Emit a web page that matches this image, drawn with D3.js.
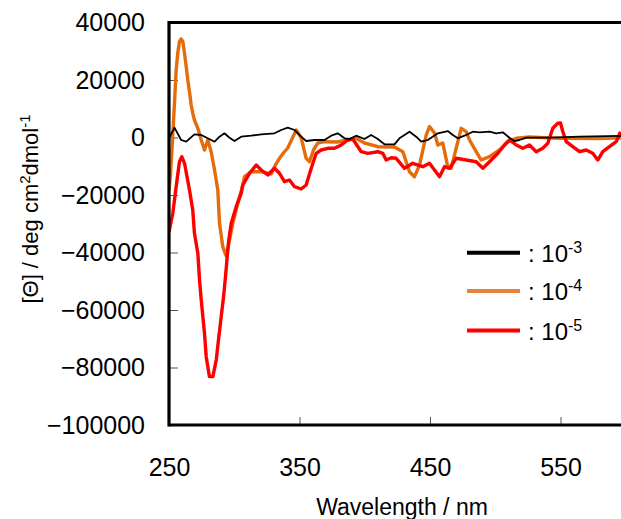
<!DOCTYPE html>
<html>
<head>
<meta charset="utf-8">
<script src="https://cdn.jsdelivr.net/npm/d3@7"></script>
<style>
  html, body { margin: 0; padding: 0; background: #fff; }
  svg { display: block; }
  text { font-family: "Liberation Sans", Arial, sans-serif; fill: #000; }
</style>
</head>
<body>
<svg id="chart" width="621" height="519"></svg>
<script>
// CD spectra: wavelength (nm) vs molar ellipticity, three concentrations
const xTicks = [250, 350, 450, 550];
const yTicks = [40000, 20000, 0, -20000, -40000, -60000, -80000, -100000];

const seriesNames = ["10-3", "10-4", "10-5"];
const seriesColors = ["#000000", "#E46C0A", "#FF0000"];
const legendColors = ["#000000", "#E5843F", "#FF0000"];
const seriesWidths = [1.8, 3.4, 3.4];

// 10^-3
const wl1 = [250, 254.2, 259.3, 263.2, 269.5, 274.7, 279.7, 284.9, 288.7, 292.5, 296.4, 300.2, 305.3, 313.0, 320.7, 330.8, 336.0, 341.0, 346.2, 351.3, 355.1, 361.5, 369.2, 374.3, 379.3, 384.5, 388.3, 393.4, 399.8, 404.9, 410.0, 415.1, 422.8, 426.6, 434.3, 439.4, 443.3, 448.3, 456.0, 463.6, 467.5, 471.3, 476.4, 482.8, 487.9, 495.6, 500.7, 505.8, 510.9, 514.8, 518.6, 523.7, 541.6, 564.6, 600];
const cd1 = [-280, 3410, -870, -1460, 1110, 870, -280, -1460, 280, 1460, -70, -1220, 280, 630, 1110, 1460, 2610, 3410, 2610, 280, -1220, -870, -870, 630, 1460, -280, -520, 630, -520, 870, -520, -2370, -2370, -280, 2020, 280, -1460, -870, 1460, 2260, 870, -280, 630, 2020, 1810, 2020, 1460, 1810, -70, -1220, -870, -70, -70, 280, 630];

// 10^-4
const wl2 = [250.0, 251.1, 252.7, 254.2, 255.5, 256.7, 258.0, 259.3, 260.6, 261.9, 263.2, 264.4, 265.7, 267.0, 268.2, 269.5, 272.1, 274.7, 277.2, 279.7, 282.3, 284.9, 287.4, 288.7, 291.2, 293.8, 296.4, 298.9, 302.7, 305.6, 307.9, 313.0, 320.7, 328.3, 331.6, 334.7, 337.7, 341.0, 344.6, 347.5, 351.3, 355.1, 357.7, 360.7, 364.0, 369.2, 379.1, 386.8, 393.4, 399.8, 410.0, 422.8, 429.2, 434.3, 438.1, 442.0, 447.1, 449.6, 453.5, 456.0, 459.8, 463.6, 466.2, 470.1, 473.9, 477.7, 480.3, 485.4, 489.2, 495.6, 503.3, 509.6, 516.1, 526.2, 549.2, 580.0, 600.0];
const cd2 = [-18260, -13040, -870, 11890, 23480, 29290, 33320, 34260, 33320, 29290, 24620, 20000, 15930, 11300, 8420, 6090, 3200, -870, -4350, -870, -4940, -11300, -18260, -29840, -37980, -41210, -35650, -29840, -22890, -18260, -13630, -11890, -11890, -12690, -9560, -7230, -5390, -3650, -170, 2610, -170, -7230, -8420, -4350, -1910, -1460, -1570, -870, -280, -1910, -3200, -3300, -4940, -11890, -13630, -9560, 870, 3760, 1570, -2610, -1910, -10160, -10710, -3650, 3200, 2020, -870, -4940, -7830, -6680, -4350, -1460, -280, 170, -300, -400, 0];

// 10^-5
const wl3 = [250, 252.9, 255.5, 258.0, 259.8, 261.9, 265.7, 268.2, 269.5, 272.1, 273.4, 274.7, 277.2, 278.5, 281.0, 283.6, 286.2, 288.2, 290.0, 291.8, 293.3, 294.6, 295.8, 297.7, 301.5, 305.3, 306.6, 311.7, 316.8, 320.7, 325.7, 330.8, 334.7, 338.5, 342.3, 346.2, 351.3, 355.1, 359.0, 362.8, 366.6, 371.7, 376.8, 382.0, 387.0, 390.8, 397.3, 402.3, 410.0, 413.8, 416.4, 420.3, 424.1, 430.5, 436.8, 444.5, 449.6, 457.3, 461.1, 465.0, 470.1, 477.7, 485.4, 490.5, 495.6, 502.0, 507.1, 510.9, 516.1, 521.1, 526.2, 531.4, 536.4, 540.3, 544.1, 547.9, 550.0, 551.8, 554.4, 559.4, 564.6, 569.7, 574.7, 578.6, 582.4, 587.5, 592.7, 596.0];
const cd3 = [-32870, -26360, -17110, -8420, -6680, -8970, -18260, -25220, -33320, -40270, -49560, -56520, -68100, -76240, -83190, -83190, -77390, -69280, -62330, -55370, -48410, -41460, -35650, -29840, -24070, -19410, -16520, -12450, -9560, -11300, -13040, -10710, -12450, -15370, -14780, -17110, -17910, -16520, -10710, -5500, -4350, -3760, -3760, -2610, -870, -520, -4940, -5500, -4940, -5500, -7830, -7030, -7230, -10710, -8970, -10160, -8970, -13630, -10160, -10710, -7230, -7830, -8420, -10710, -8420, -5500, -2610, -870, -2610, -3760, -2610, -4940, -3760, -2020, 3200, 4940, 5040, 2020, -1460, -3200, -4940, -4350, -5500, -7830, -4940, -3200, -1460, 2020];

const wavelengths = [wl1, wl2, wl3];
const ellipticity = [cd1, cd2, cd3];

const svg = d3.select("#chart");

const x = d3.scaleLinear().domain([250, 600]).range([169, 625.75]);
const y = d3.scaleLinear().domain([-100000, 40000]).range([425, 22.5]);

// clip so traces stay inside the frame
svg.append("defs").append("clipPath").attr("id", "plotClip")
  .append("rect").attr("x", 169).attr("y", 22.5).attr("width", 460).attr("height", 402.5);

// y axis: ticks point inward, labels on the left
const yAxis = d3.axisLeft(y)
  .tickValues(yTicks)
  .tickFormat(d3.format("d"))
  .tickSizeInner(-9)
  .tickSizeOuter(0)
  .tickPadding(24);
const gy = svg.append("g").attr("transform", `translate(${x(250)},0)`).call(yAxis);
gy.select(".domain").remove();
gy.selectAll(".tick line").attr("stroke", "#555").attr("stroke-width", 1);
gy.selectAll(".tick text").attr("font-size", 25).attr("fill", "#000")
  .style("font-family", "'Liberation Sans', Arial, sans-serif");

// x axis
const xAxis = d3.axisBottom(x)
  .tickValues(xTicks)
  .tickFormat(d3.format("d"))
  .tickSizeInner(-8)
  .tickSizeOuter(0)
  .tickPadding(33);
const gx = svg.append("g").attr("transform", `translate(0,${y(-100000)})`).call(xAxis);
gx.select(".domain").remove();
gx.selectAll(".tick line").attr("stroke", "#555").attr("stroke-width", 1);
gx.selectAll(".tick text").attr("font-size", 25).attr("fill", "#000")
  .style("font-family", "'Liberation Sans', Arial, sans-serif");

// traces
const line = d3.line().x(d => x(d[0])).y(d => y(d[1]));
const plot = svg.append("g").attr("clip-path", "url(#plotClip)");
[1, 2, 0].forEach(i => {
  const pts = wavelengths[i].map((w, k) => [w, ellipticity[i][k]]);
  plot.append("path")
    .datum(pts)
    .attr("fill", "none")
    .attr("stroke", seriesColors[i])
    .attr("stroke-width", seriesWidths[i])
    .attr("stroke-linejoin", "round")
    .attr("d", line);
});

// frame: left axis, top and bottom borders
const frame = svg.append("g").attr("stroke", "#000").attr("stroke-width", 3.2);
frame.append("line").attr("x1", x(250)).attr("x2", x(250)).attr("y1", y(40000) - 1.6).attr("y2", y(-100000) + 1.6);
frame.append("line").attr("x1", x(250)).attr("x2", 640).attr("y1", y(40000)).attr("y2", y(40000));
frame.append("line").attr("x1", x(250)).attr("x2", 640).attr("y1", y(-100000)).attr("y2", y(-100000));

// legend
const legend = svg.append("g");
const legendY = [252.7, 291, 330.5];
seriesNames.forEach((name, i) => {
  legend.append("line")
    .attr("x1", 467).attr("x2", 520)
    .attr("y1", legendY[i]).attr("y2", legendY[i])
    .attr("stroke", legendColors[i]).attr("stroke-width", 4);
  const parts = name.split("-");
  const t = legend.append("text")
    .attr("x", 528).attr("y", legendY[i] + 9)
    .attr("font-size", 24);
  t.append("tspan").text(": " + parts[0]);
  t.append("tspan").attr("font-size", 16).attr("dy", -9).text("-" + parts[1]);
});

// axis titles
svg.append("text")
  .attr("x", 402).attr("y", 515)
  .attr("text-anchor", "middle")
  .attr("font-size", 23)
  .text("Wavelength / nm");

const yTitle = svg.append("text")
  .attr("transform", "translate(38,209) rotate(-90)")
  .attr("text-anchor", "middle")
  .attr("font-size", 22);
yTitle.append("tspan").text("[Θ] / deg cm");
yTitle.append("tspan").attr("font-size", 15).attr("dy", -8).text("2");
yTitle.append("tspan").attr("dy", 8).text("dmol");
yTitle.append("tspan").attr("font-size", 15).attr("dy", -8).text("-1");
</script>
</body>
</html>
